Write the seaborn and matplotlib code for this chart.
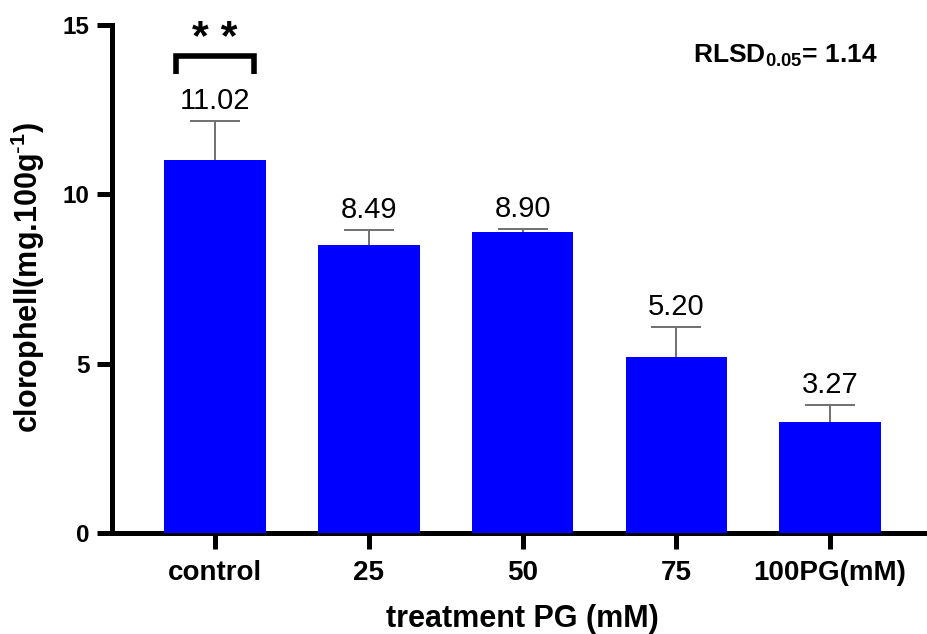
import numpy as np
import pandas as pd
import matplotlib
matplotlib.use("Agg")
import matplotlib.pyplot as plt
import seaborn as sns

categories = ["control", "25", "50", "75", "100PG(mM)"]
means = [11.02, 8.49, 8.90, 5.20, 3.27]
errors = [1.15, 0.47, 0.07, 0.88, 0.52]
y_ticks = [0, 5, 10, 15]

sns.set_theme(style="ticks")
plt.rcParams["font.family"] = ["Liberation Sans", "DejaVu Sans"]
plt.rcParams["mathtext.default"] = "regular"
for k in ["text.color", "axes.labelcolor", "xtick.color", "ytick.color", "axes.edgecolor"]:
    plt.rcParams[k] = "black"

fig = plt.figure(figsize=(9.27, 6.34), dpi=100)
ax = fig.add_axes([0.1208, 0.1593, 0.8792, 0.8013])

df = pd.DataFrame({"treatment": categories, "value": means})
sns.barplot(data=df, x="treatment", y="value", order=categories,
            color="#0000ff", saturation=1, width=0.66, errorbar=None,
            linewidth=0, ax=ax, zorder=3)

x = np.arange(len(categories))
eb = ax.errorbar(x, means, yerr=[np.zeros(len(means)), errors], fmt="none",
                 ecolor="#707070", elinewidth=1.4, capsize=18, capthick=1.4,
                 zorder=4)
eb[1][0].set_visible(False)

for xi, m, e in zip(x, means, errors):
    ax.annotate(f"{m:.2f}", (xi, m + e), xytext=(0, 8.5), textcoords="offset points",
                ha="center", va="baseline", fontsize=21, color="black")

# significance bracket over control
half = 0.254
ax.plot([x[0] - half, x[0] - half, x[0] + half, x[0] + half],
        [13.55, 14.08, 14.08, 13.55], color="black", lw=4,
        solid_joinstyle="miter", solid_capstyle="butt", clip_on=False, zorder=5)
ax.text(x[0], 14.25, "* *", fontsize=31, fontweight="bold", ha="center",
        va="baseline", color="black")

ax.text(3.11, 13.88, r"RLSD$_{0.05}$= 1.14", fontsize=19, fontweight="bold",
        ha="left", va="baseline", color="black")

ax.set_ylim(0, 15)
ax.set_yticks(y_ticks)
ax.set_yticklabels([str(t) for t in y_ticks])
ax.set_xlim(-0.67, 4.63)

for s in ["top", "right"]:
    ax.spines[s].set_visible(False)
for s in ["left", "bottom"]:
    ax.spines[s].set_linewidth(3.6)
    ax.spines[s].set_color("black")

ax.tick_params(axis="y", direction="out", length=11, width=3.6, color="black",
               pad=5, labelsize=17.5, labelcolor="black")
ax.tick_params(axis="x", direction="out", length=11.5, width=3.6, color="black",
               pad=8, labelsize=20, labelcolor="black")
for lab in ax.get_xticklabels() + ax.get_yticklabels():
    lab.set_fontweight("bold")

ax.set_xlabel("treatment PG (mM)", fontsize=22, fontweight="bold", color="black")
ax.xaxis.set_label_coords(0.503, -0.140)
ax.set_ylabel(r"clorophell(mg.100g$^{\text{-}1}$)", fontsize=22, fontweight="bold",
              color="black")
ax.yaxis.set_label_coords(-0.0798, 0.503)

fig.savefig("out.png", dpi=100)
